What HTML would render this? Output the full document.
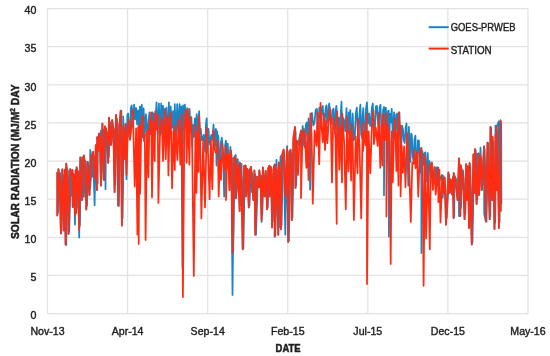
<!DOCTYPE html>
<html><head><meta charset="utf-8"><style>
html,body{margin:0;padding:0;background:#fff;}
svg{display:block;}
text{font-family:"Liberation Sans",sans-serif;fill:#1e1e1e;}
.lb{stroke:#1e1e1e;stroke-width:0.4px;}
.bd{stroke:#1e1e1e;stroke-width:0.5px;}
svg{filter:blur(0.3px);}
</style></head><body>
<svg width="550" height="356" viewBox="0 0 550 356">
<rect width="550" height="356" fill="#fff"/>
<g stroke="#e2e2e2" stroke-width="1.25" fill="none"><line x1="47.5" y1="8.50" x2="528.0" y2="8.50"/>
<line x1="47.5" y1="46.62" x2="528.0" y2="46.62"/>
<line x1="47.5" y1="84.75" x2="528.0" y2="84.75"/>
<line x1="47.5" y1="122.88" x2="528.0" y2="122.88"/>
<line x1="47.5" y1="161.00" x2="528.0" y2="161.00"/>
<line x1="47.5" y1="199.12" x2="528.0" y2="199.12"/>
<line x1="47.5" y1="237.25" x2="528.0" y2="237.25"/>
<line x1="47.5" y1="275.38" x2="528.0" y2="275.38"/>
<line x1="47.5" y1="313.50" x2="528.0" y2="313.50"/>
<line x1="47.50" y1="8.5" x2="47.50" y2="313.5"/>
<line x1="127.58" y1="8.5" x2="127.58" y2="313.5"/>
<line x1="207.67" y1="8.5" x2="207.67" y2="313.5"/>
<line x1="287.75" y1="8.5" x2="287.75" y2="313.5"/>
<line x1="367.83" y1="8.5" x2="367.83" y2="313.5"/>
<line x1="447.92" y1="8.5" x2="447.92" y2="313.5"/>
<line x1="528.00" y1="8.5" x2="528.00" y2="313.5"/></g>
<g font-size="10.6" class="lb"><text x="36.3" y="14.2" text-anchor="end">40</text>
<text x="36.3" y="52.3" text-anchor="end">35</text>
<text x="36.3" y="90.5" text-anchor="end">30</text>
<text x="36.3" y="128.6" text-anchor="end">25</text>
<text x="36.3" y="166.7" text-anchor="end">20</text>
<text x="36.3" y="204.8" text-anchor="end">15</text>
<text x="36.3" y="242.9" text-anchor="end">10</text>
<text x="36.3" y="281.1" text-anchor="end">5</text>
<text x="36.3" y="319.2" text-anchor="end">0</text><text x="47.5" y="334.5" text-anchor="middle">Nov-13</text>
<text x="127.6" y="334.5" text-anchor="middle">Apr-14</text>
<text x="207.7" y="334.5" text-anchor="middle">Sep-14</text>
<text x="287.8" y="334.5" text-anchor="middle">Feb-15</text>
<text x="367.8" y="334.5" text-anchor="middle">Jul-15</text>
<text x="447.9" y="334.5" text-anchor="middle">Dec-15</text>
<text x="528.0" y="334.5" text-anchor="middle">May-16</text></g>
<text class="bd" x="275.6" y="351.7" font-weight="bold" font-size="10" textLength="25" lengthAdjust="spacingAndGlyphs">DATE</text>
<text class="bd" transform="translate(18.8,239) rotate(-90)" font-weight="bold" font-size="11.8" textLength="154.5" lengthAdjust="spacingAndGlyphs">SOLAR RADIATION (MJ/M<tspan font-size="7.5" dy="-3.6">2</tspan><tspan dy="3.6"> DAY</tspan></text>
<g fill="none" stroke-linejoin="round" stroke-width="1.75">
<polyline stroke="#1a85c5" points="57.3,172.0 57.3,215.4 58.4,169.2 59.6,180.2 60.9,233.4 62.3,169.4 63.8,230.4 64.7,169.7 65.6,244.6 66.2,163.7 67.3,177.6 68.5,234.0 70.2,169.2 71.3,195.7 72.4,170.1 72.7,207.0 73.8,174.4 75.0,224.5 75.6,170.3 76.2,212.8 76.6,167.4 77.9,174.3 79.2,237.5 80.3,157.3 82.0,200.0 83.0,157.8 83.9,155.5 83.9,196.9 85.1,164.7 86.3,209.5 87.5,191.5 87.6,161.9 88.5,170.0 89.5,195.0 90.3,150.0 91.2,157.5 92.2,176.8 93.0,151.9 94.6,205.3 95.8,145.2 97.0,190.0 97.2,137.2 98.1,151.1 98.9,133.7 99.9,138.2 100.9,185.6 102.4,123.6 104.0,180.0 105.0,126.3 105.5,189.2 106.1,128.4 107.2,137.9 108.2,162.8 109.0,117.7 110.0,134.5 111.0,145.0 112.2,120.1 113.4,130.8 114.6,192.0 116.0,114.8 117.1,129.7 118.2,205.7 119.5,125.7 120.7,110.6 121.9,225.6 123.2,116.5 124.5,159.0 125.5,124.1 126.5,179.2 127.3,114.9 128.2,113.6 129.1,136.6 129.9,138.6 130.8,108.4 131.7,105.3 132.9,124.5 134.1,104.7 135.1,119.6 136.1,108.0 137.1,124.5 138.0,110.4 139.0,128.7 140.0,106.5 140.9,138.6 141.8,104.7 142.7,137.5 143.6,108.3 144.8,136.1 145.9,114.2 146.8,125.7 147.7,143.6 148.6,119.6 149.5,112.4 150.2,131.9 150.9,133.4 151.7,114.0 152.4,112.4 153.2,139.5 154.1,113.5 155.3,124.9 156.5,102.3 157.7,134.7 158.9,103.5 160.1,135.5 161.2,103.5 162.1,133.8 163.0,105.9 163.9,133.1 164.8,108.8 165.7,126.1 166.5,107.6 167.7,140.9 168.9,102.3 169.8,139.2 170.7,106.5 171.8,127.9 173.0,111.2 173.9,139.7 174.8,104.1 176.0,139.2 177.2,104.1 178.4,131.0 179.6,104.1 180.4,142.5 181.3,106.5 182.5,268.0 183.1,105.3 184.0,129.7 184.9,104.7 186.1,122.6 187.2,108.2 188.4,133.0 189.6,108.8 190.5,131.2 191.4,117.1 192.2,146.5 193.1,124.8 194.0,137.0 194.9,118.3 195.8,135.2 196.7,114.1 197.9,132.7 199.1,111.2 199.9,133.4 200.8,128.9 201.6,140.4 202.3,139.9 203.1,136.2 203.8,134.8 204.5,144.1 205.2,151.8 206.0,124.1 206.7,118.3 207.6,150.6 208.5,128.9 209.2,140.2 210.0,144.9 210.8,137.1 211.5,134.8 212.5,140.0 213.5,124.5 214.7,145.9 215.9,128.9 216.5,165.6 217.1,131.2 217.7,159.0 218.3,135.4 219.2,155.7 220.1,164.6 220.9,142.6 221.8,137.7 223.0,152.9 224.2,196.5 225.1,145.1 226.0,140.7 226.8,160.2 227.7,143.6 228.3,153.7 229.5,190.0 230.4,146.8 230.9,171.2 231.3,154.3 232.5,295.0 234.1,157.7 235.7,155.0 236.0,198.3 237.8,159.2 239.7,211.1 239.8,162.7 241.2,180.0 241.6,163.9 242.7,249.3 244.2,165.8 245.7,165.7 246.1,196.5 247.4,168.9 248.8,207.4 249.9,170.1 251.0,166.9 251.6,191.9 252.2,180.4 253.4,200.1 254.4,170.4 255.3,234.7 257.1,176.5 258.9,187.4 259.3,170.4 260.5,179.7 261.6,222.0 262.9,167.5 264.3,196.5 265.7,170.8 267.1,209.3 268.2,168.3 269.4,165.7 269.8,196.5 271.0,167.0 272.1,227.4 273.4,169.3 274.7,164.5 274.7,236.6 276.5,159.8 278.3,234.7 278.8,162.7 279.9,170.1 280.6,156.2 280.9,229.3 282.2,154.7 283.6,149.7 285.3,234.7 287.1,146.2 288.2,242.0 289.4,152.9 290.6,149.7 291.8,220.2 293.4,138.2 295.0,127.1 295.5,187.9 296.8,140.7 298.4,144.9 299.7,136.5 301.0,130.5 301.9,141.7 302.7,126.0 303.8,144.9 304.8,147.5 305.8,124.9 306.9,122.4 307.8,145.9 308.6,118.3 309.4,127.4 310.1,189.7 311.1,118.2 312.0,113.0 313.2,125.7 314.4,123.4 315.7,109.9 316.9,108.8 318.1,135.0 319.3,107.6 320.2,117.2 321.1,118.0 321.9,107.5 322.8,105.9 323.7,125.5 324.6,124.6 325.5,109.5 326.4,105.3 327.1,122.9 327.9,120.4 328.6,106.3 329.3,103.5 330.4,119.5 331.4,124.1 332.4,110.2 333.5,108.8 334.2,123.1 334.9,133.4 335.7,110.2 336.4,105.9 337.6,130.3 338.8,117.7 339.5,128.1 340.1,137.9 340.8,113.1 341.5,101.7 342.1,128.5 342.8,127.8 343.5,118.3 344.1,120.6 345.3,131.4 346.5,108.2 347.2,135.4 347.9,133.1 348.7,112.3 349.4,112.4 349.9,149.1 350.3,110.0 351.5,151.1 352.7,113.5 353.7,140.3 354.8,137.4 355.8,113.5 356.8,107.6 357.7,129.7 358.6,136.7 359.5,113.9 360.4,104.7 361.1,134.4 361.9,137.8 362.6,115.8 363.3,108.2 364.2,128.8 365.1,141.0 366.0,108.8 366.9,102.3 368.0,123.7 369.2,113.5 370.1,125.9 371.0,122.9 371.9,107.6 372.8,103.5 373.8,126.0 374.9,128.5 375.9,106.4 376.9,105.9 377.8,119.9 378.7,127.4 379.6,107.1 380.5,104.7 381.4,129.6 382.2,139.2 383.1,110.0 384.0,107.0 384.0,195.2 384.4,119.6 384.9,137.1 385.8,107.6 386.5,120.3 387.2,133.8 388.0,111.1 388.7,110.6 388.9,236.6 389.8,113.8 390.8,122.4 391.7,108.8 392.9,139.0 394.1,112.4 394.8,128.0 395.6,140.2 396.3,114.5 397.0,113.5 398.2,137.4 399.4,112.4 400.3,137.6 401.1,153.0 402.0,125.6 402.9,128.9 403.8,140.5 404.7,143.0 405.6,128.0 406.5,123.4 407.4,151.0 408.3,185.6 408.9,126.9 409.6,149.2 410.4,162.0 411.1,133.7 411.8,134.5 412.7,156.6 413.6,161.1 414.5,139.1 415.4,135.7 416.3,161.8 417.1,167.1 418.0,140.3 418.9,140.5 418.9,140.5 420.1,172.5 421.3,148.0 421.4,253.0 422.4,151.3 423.4,164.8 424.4,153.4 425.4,152.3 425.4,152.3 426.6,181.4 427.8,153.0 427.8,153.0 428.6,181.7 429.5,161.2 429.5,161.2 430.6,171.5 431.8,163.0 432.9,187.4 434.1,170.7 435.4,167.7 435.4,167.7 436.2,182.5 437.1,167.1 437.1,167.1 438.3,180.5 439.5,181.2 440.7,177.2 441.9,174.8 441.9,174.8 442.8,197.8 443.6,176.0 443.6,176.0 444.8,186.4 446.0,224.7 448.4,172.5 449.3,193.0 450.7,179.5 452.1,194.7 452.9,177.1 453.6,218.1 453.7,173.0 455.6,182.5 457.6,200.2 459.0,158.3 459.0,216.0 460.3,216.0 460.8,165.4 462.7,177.0 463.0,189.3 463.1,170.7 464.6,219.2 466.1,164.2 467.0,200.0 468.0,166.3 469.0,228.0 469.6,163.0 471.8,244.4 473.4,154.4 474.9,193.0 475.0,149.0 476.6,204.0 476.7,154.1 478.5,153.5 479.0,195.0 480.5,147.5 482.0,190.0 484.0,146.3 484.2,213.8 485.8,221.4 487.5,142.7 489.7,219.2 490.5,126.8 492.0,200.0 492.6,136.8 494.5,229.0 495.5,125.6 496.5,190.0 496.6,126.8 498.7,121.5 498.9,228.0 500.5,120.3 500.7,211.6"/>
<polyline stroke="#1a85c5" stroke-width="1.3" points="58.2,176.7 58.2,212.9 59.3,173.5 60.5,173.0 61.8,231.1 63.2,175.3 64.7,226.2 65.6,170.4 66.5,245.2 67.1,167.8 68.2,171.3 69.4,232.0 71.1,175.2 72.2,169.7 73.3,175.2 73.6,205.3 74.8,175.7 75.9,209.3 76.5,176.0 77.1,207.9 77.5,170.0 78.8,172.3 80.1,225.8 81.2,157.3 82.9,194.3 83.9,160.6 84.8,160.1 86.0,162.1 87.2,205.4 88.5,163.0 89.5,169.0 90.4,188.7 92.2,161.8 93.9,154.9 95.5,175.5 96.7,147.5 97.9,183.8 98.1,138.2 99.0,148.9 99.8,135.4 100.8,130.3 101.8,179.3 103.3,129.1 104.9,178.4 106.0,129.8 107.0,132.0 108.1,137.3 109.1,157.2 109.9,121.5 110.9,126.6 111.9,142.8 113.1,125.9 114.3,129.2 115.5,184.7 116.9,118.3 118.0,124.5 119.1,206.0 120.4,125.8 121.6,110.7 122.8,218.5 124.1,128.8 125.4,158.9 126.4,127.5"/>
<polyline stroke="#1a85c5" stroke-width="1.3" points="229.2,157.7 230.4,182.4 231.3,150.7 231.8,166.7 232.2,158.1 233.4,251.8 235.0,161.2 236.6,159.7 236.9,191.9 238.8,167.8 240.6,205.4 240.7,167.3 242.2,180.0 243.6,248.5 245.1,166.6 246.6,170.4 247.0,188.6 248.3,169.8 249.7,205.7 250.8,172.0 251.9,171.9 253.1,178.6 254.3,197.9 255.3,174.0 256.2,234.9 258.0,181.5 259.8,179.7 260.2,176.3 261.4,175.5 262.5,214.9 263.8,172.7 265.2,196.8 266.6,175.4 268.0,207.8 269.1,168.4 270.3,167.4 270.7,195.8 271.9,173.0 273.0,221.9 274.3,173.8 275.6,165.2 275.6,235.3 277.4,170.4 279.2,227.4 279.7,163.8 280.8,167.2 281.8,225.6 283.1,158.9 284.5,151.8 286.2,193.9 288.0,150.8 289.1,240.9 290.3,153.0 291.5,153.2 292.7,217.5 294.3,138.5 295.9,131.7 296.4,185.6 297.6,146.4"/>
<polyline stroke="#1a85c5" stroke-width="1.3" points="446.9,218.4 449.3,175.0 450.2,192.8 451.6,185.2 453.0,192.9 453.8,179.2 454.5,216.8 454.6,175.7 456.5,179.4 458.5,198.3 459.9,163.9 461.2,208.1 461.7,169.6 463.6,177.2 465.5,214.6 467.0,165.6 467.9,197.1 468.9,166.5 469.9,227.2 470.5,165.9 472.7,242.4 474.2,159.0 475.8,185.2 475.9,150.1 477.5,199.8 479.4,157.2 479.9,190.3 481.4,157.6 482.9,182.2 484.9,148.9 486.7,221.9 488.4,142.9 490.6,216.6 491.4,128.0 492.9,200.7 493.5,141.6 495.4,222.9 496.4,140.7 497.4,184.8 497.5,130.9 499.8,222.4 501.4,122.1 501.6,204.2"/>
<polyline stroke="#ff2c12" points="57.3,172.0 57.3,215.4 58.4,169.2 59.6,180.2 60.9,233.4 62.3,169.4 63.8,230.4 64.7,169.7 65.6,244.6 66.2,163.7 67.3,177.6 68.5,234.0 70.2,169.2 71.3,175.8 72.4,170.1 72.7,207.0 73.8,174.4 75.0,215.6 75.6,170.3 76.2,212.8 76.6,167.4 77.9,174.3 79.2,229.8 80.3,157.3 82.0,200.0 83.0,157.8 83.9,155.5 85.1,164.7 86.3,209.5 87.6,161.9 88.5,170.0 89.5,195.0 91.2,157.5 93.0,151.9 94.6,178.5 95.8,145.2 97.0,190.0 97.2,137.2 98.1,151.1 98.9,133.7 99.9,138.2 100.9,185.6 102.4,123.6 104.0,180.0 105.0,126.3 106.1,129.6 107.2,137.9 108.2,162.8 109.0,117.7 110.0,134.5 111.0,145.0 112.2,120.1 113.4,130.8 114.6,192.0 116.0,114.8 117.1,129.7 118.2,205.7 119.5,125.7 120.7,110.6 121.9,225.6 123.2,126.7 124.5,159.0 125.5,124.1 126.5,175.0 127.7,133.6 128.8,119.5 130.0,140.0 131.4,128.5 132.9,109.5 134.7,186.5 136.1,128.4 137.4,234.7 138.1,127.2 138.7,243.9 139.4,125.7 140.1,193.8 141.3,126.2 142.6,115.4 144.0,141.0 144.8,134.4 145.6,240.0 147.0,130.4 148.4,177.4 149.5,120.1 150.3,133.9 151.2,112.4 152.0,197.4 153.3,121.9 154.7,161.0 155.3,111.2 156.5,129.7 157.7,114.7 158.4,202.9 160.1,129.5 161.8,118.3 163.0,161.0 164.8,110.0 165.7,159.1 166.7,128.8 167.7,116.5 168.4,175.5 169.6,122.7 170.7,112.4 172.1,188.3 173.4,131.2 174.8,170.0 175.4,125.4 176.4,146.1 177.5,160.0 178.4,119.5 179.4,136.2 180.3,164.6 181.9,114.1 182.9,297.0 184.4,128.3 186.0,110.0 186.7,162.8 187.8,108.8 189.4,164.6 190.2,117.1 192.0,134.9 193.8,276.0 195.5,125.4 196.5,192.8 197.5,132.2 198.5,171.9 199.1,115.9 200.2,143.0 201.4,218.4 203.2,139.9 205.0,207.4 206.7,127.7 208.1,154.7 209.6,199.2 210.9,140.6 212.3,189.2 213.5,130.0 214.6,148.2 215.6,152.5 216.6,152.6 217.7,140.7 218.7,196.5 219.8,160.0 221.0,180.0 222.4,143.6 224.2,169.6 226.0,146.6 226.0,200.1 227.2,156.8 228.3,153.7 229.5,190.0 230.4,149.7 230.9,171.2 231.3,154.3 232.5,253.0 234.1,157.7 235.7,158.0 236.0,198.3 237.8,165.2 239.7,211.1 239.8,162.7 241.2,180.0 242.7,249.3 244.2,165.8 245.7,165.7 246.1,196.5 247.4,168.9 248.8,207.4 249.9,170.1 251.0,166.9 252.2,180.4 253.4,200.1 254.4,170.4 255.3,234.7 257.1,176.5 258.9,187.4 259.3,170.4 260.5,179.7 261.6,220.2 262.9,167.5 264.3,196.5 265.7,170.8 267.1,209.3 268.2,168.3 269.4,165.7 269.8,196.5 271.0,167.0 272.1,227.4 273.4,169.3 274.7,164.5 274.7,236.6 276.5,168.2 278.3,234.7 278.8,162.7 279.9,170.1 280.9,229.3 282.2,154.7 283.6,149.7 285.3,196.5 287.1,148.5 288.2,242.0 289.4,152.9 290.6,149.7 291.8,220.2 293.4,138.2 295.0,127.1 295.5,187.9 296.8,140.7 298.0,175.0 299.5,140.6 301.0,131.3 301.0,198.0 302.4,137.4 303.9,128.9 305.1,139.8 306.4,167.8 307.4,133.5 308.5,180.0 310.4,113.5 311.6,135.5 312.8,203.7 314.6,130.3 316.5,146.0 317.5,112.4 319.2,164.2 320.5,102.9 321.6,127.3 322.8,142.3 324.0,113.5 325.0,150.0 326.2,120.4 327.4,143.2 328.6,121.8 329.9,108.2 330.9,125.5 332.0,182.4 333.2,117.6 334.4,124.6 335.5,138.5 336.7,223.8 337.0,111.2 338.1,126.3 339.3,169.7 340.6,126.6 342.0,182.4 342.3,113.5 344.1,141.6 345.8,209.2 347.1,117.1 348.4,171.5 349.8,130.7 351.1,180.6 351.5,124.2 352.7,142.4 353.9,220.0 355.7,136.5 357.5,173.3 358.0,118.3 359.6,148.8 361.2,218.3 362.7,123.0 363.0,151.4 364.3,131.3 365.6,145.3 366.9,113.5 367.0,284.0 368.6,131.4 370.3,173.3 371.9,124.8 373.4,110.6 373.9,144.1 375.8,127.5 377.6,146.0 378.7,113.0 380.3,167.8 381.4,125.7 382.5,165.5 382.8,114.1 384.6,140.1 386.4,113.5 386.4,216.5 387.5,124.7 388.5,129.6 389.6,141.5 390.7,264.0 391.8,131.4 392.8,182.0 394.0,132.6 395.2,118.3 396.4,171.0 397.4,132.6 398.5,185.6 398.8,112.4 399.7,131.2 400.6,125.7 400.6,196.4 401.7,145.6 402.8,172.8 404.1,146.4 405.5,187.4 407.1,133.0 409.0,160.9 410.8,222.0 412.3,162.3 413.8,163.7 414.2,149.9 415.6,168.3 416.9,151.9 418.3,196.6 419.8,154.0 421.3,148.0 422.5,162.2 423.6,285.8 424.9,155.6 426.1,238.4 428.0,164.2 429.8,249.3 430.8,166.3 431.8,162.4 432.9,190.0 434.3,166.9 435.7,194.7 438.3,167.7 438.4,202.0 439.4,169.9 440.5,222.5 442.2,176.3 443.9,193.0 444.9,177.6 446.0,224.7 448.4,172.5 449.3,193.0 450.7,179.5 452.1,194.7 452.9,177.1 453.6,218.1 453.7,173.0 455.6,182.5 457.6,200.2 459.0,158.3 460.3,216.0 460.8,165.4 462.7,177.0 464.6,219.2 466.1,164.2 467.0,200.0 468.0,166.3 469.0,228.0 469.6,163.0 471.8,244.4 473.4,154.4 474.9,193.0 475.0,149.0 476.6,204.0 478.5,153.5 479.0,195.0 480.5,155.9 482.0,190.0 484.0,146.3 485.8,221.4 487.5,142.7 489.7,219.2 490.5,126.8 492.0,200.0 492.6,136.8 494.5,229.0 495.5,134.9 496.5,190.0 496.6,126.8 498.9,228.0 500.5,120.3 500.7,211.6"/>
</g>
<line x1="428.7" y1="27.2" x2="448.7" y2="27.2" stroke="#1a85c5" stroke-width="2"/>
<line x1="428.7" y1="48.6" x2="448.7" y2="48.6" stroke="#ff2c12" stroke-width="2"/>
<text class="lb" x="450.7" y="31.4" font-size="10.7" textLength="64.8" lengthAdjust="spacingAndGlyphs">GOES-PRWEB</text>
<text class="lb" x="450.7" y="54.1" font-size="10.7" textLength="41" lengthAdjust="spacingAndGlyphs">STATION</text>
</svg>
</body></html>
